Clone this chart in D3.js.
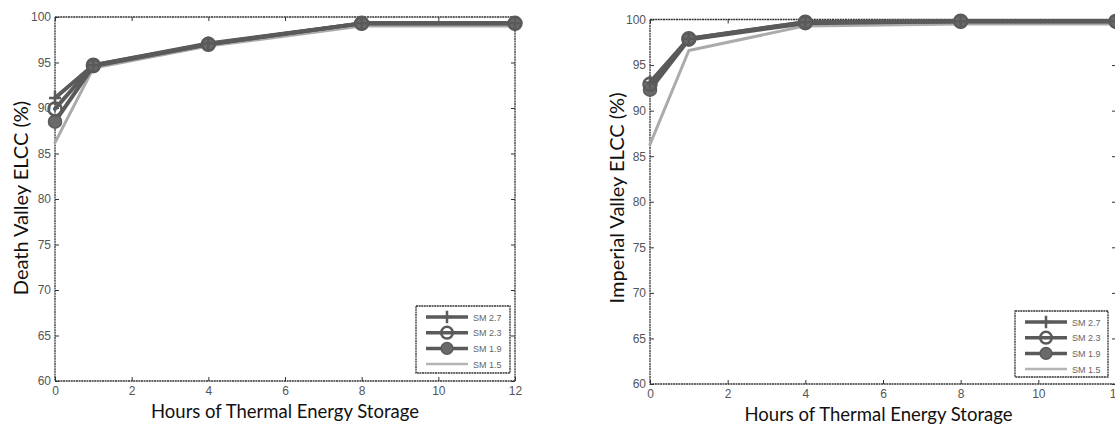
<!DOCTYPE html>
<html>
<head>
<meta charset="utf-8">
<script src="https://cdn.jsdelivr.net/npm/d3@7"></script>
<style>
  html, body { margin: 0; padding: 0; background: #fff; }
  svg { display: block; }
</style>
</head>
<body>
<svg id="chart" width="1115" height="428"></svg>
<script>
// ---- data ----
const hours = [0, 1, 4, 8, 12];
const seriesNames = ["SM 2.7", "SM 2.3", "SM 1.9", "SM 1.5"];
const deathSM27 = [91.1, 94.7, 97.1, 99.3, 99.3];
const deathSM23 = [89.9, 94.7, 97.0, 99.3, 99.3];
const deathSM19 = [88.5, 94.6, 97.0, 99.3, 99.3];
const deathSM15 = [86.2, 94.4, 96.8, 99.0, 99.0];
const impSM27 = [93.1, 97.9, 99.7, 99.8, 99.8];
const impSM23 = [92.9, 97.9, 99.7, 99.8, 99.8];
const impSM19 = [92.3, 97.8, 99.6, 99.8, 99.8];
const impSM15 = [86.3, 96.6, 99.3, 99.5, 99.5];
const xTicks = [0, 2, 4, 6, 8, 10, 12];
const yTicks = [60, 65, 70, 75, 80, 85, 90, 95, 100];

const styles = [
  { color: "#5a5a5a", width: 4, marker: "plus" },
  { color: "#5a5a5a", width: 4, marker: "open" },
  { color: "#5a5a5a", width: 4, marker: "filled" },
  { color: "#ababab", width: 3, marker: "none" }
];

const svg = d3.select("#chart");

function panel(cfg) {
  const x = d3.scaleLinear().domain([0, 12]).range([cfg.x0, cfg.x1]);
  const y = d3.scaleLinear().domain([60, 100]).range([cfg.y1, cfg.y0]);
  const g = svg.append("g");
  const axisColor = "#333";

  // box
  g.append("rect").attr("x", cfg.x0).attr("y", cfg.y0)
    .attr("width", cfg.x1 - cfg.x0).attr("height", cfg.y1 - cfg.y0)
    .attr("fill", "none").attr("stroke", axisColor).attr("stroke-width", 1.3)
    .attr("stroke-dasharray", "2,0.6");

  // axes (ticks inside, labels outside)
  const bx = g.append("g").attr("transform", `translate(0,${cfg.y1})`)
    .call(d3.axisBottom(x).tickValues(xTicks).tickSize(-4).tickPadding(5).tickFormat(d3.format("d")));
  const ly = g.append("g").attr("transform", `translate(${cfg.x0},0)`)
    .call(d3.axisLeft(y).tickValues(yTicks).tickSize(-4).tickPadding(4).tickFormat(d3.format("d")));
  const tx = g.append("g").attr("transform", `translate(0,${cfg.y0})`)
    .call(d3.axisTop(x).tickValues(xTicks).tickSize(-4).tickFormat(""));
  const ry = g.append("g").attr("transform", `translate(${cfg.x1},0)`)
    .call(d3.axisRight(y).tickValues(yTicks).tickSize(-4).tickFormat(""));
  [bx, ly, tx, ry].forEach(a => {
    a.select(".domain").remove();
    a.selectAll(".tick line").attr("stroke", axisColor).attr("stroke-width", 1);
    a.selectAll(".tick text").attr("fill", "#555")
      .style("font-family", "Liberation Sans, Arial, sans-serif").style("font-size", "12px");
  });

  // series
  const line = d3.line().x((d, i) => x(hours[i])).y(d => y(d));
  const order = [3, 2, 1, 0];
  order.forEach(si => {
    const st = styles[si];
    g.append("path").datum(cfg.series[si]).attr("d", line)
      .attr("fill", "none").attr("stroke", st.color).attr("stroke-width", st.width)
      .attr("stroke-linejoin", "round").attr("stroke-linecap", "round");
  });
  order.forEach(si => {
    const st = styles[si];
    cfg.series[si].forEach((v, i) => drawMarker(g, st, x(hours[i]), y(v), 1));
  });

  // legend
  const L = cfg.legend;
  g.append("rect").attr("x", L.x).attr("y", L.y).attr("width", L.w).attr("height", L.h)
    .attr("fill", "#fff").attr("stroke", axisColor).attr("stroke-width", 1.3)
    .attr("stroke-dasharray", "2,0.6");
  seriesNames.forEach((name, si) => {
    const st = styles[si];
    const yy = L.y + 11 + si * 15.7;
    g.append("line").attr("x1", L.x + 10).attr("x2", L.x + 52)
      .attr("y1", yy).attr("y2", yy)
      .attr("stroke", si === 3 ? "#b5b5b5" : st.color).attr("stroke-width", si === 3 ? 2.5 : 3.5);
    drawMarker(g, st, L.x + 31, yy, 0.9);
    g.append("text").attr("x", L.x + 57).attr("y", yy + 3.5).text(name)
      .attr("fill", "#666").style("font-family", "Liberation Sans, Arial, sans-serif")
      .style("font-size", "9px");
  });

  // titles
  g.append("text").attr("x", (cfg.x0 + Math.min(cfg.x1, 1115)) / 2 + cfg.xTitleDx).attr("y", cfg.xTitleY)
    .attr("text-anchor", "middle").text("Hours of Thermal Energy Storage")
    .attr("fill", "#111").style("font-family", "Lato, 'Open Sans', sans-serif").style("font-size", "18.5px");
  g.append("text").attr("transform", `translate(${cfg.yTitleX},${cfg.yTitleY}) rotate(-90)`)
    .attr("text-anchor", "middle").text(cfg.yTitle)
    .attr("fill", "#111").style("font-family", "Lato, 'Open Sans', sans-serif").style("font-size", "20px");
}

function drawMarker(g, st, cx, cy, s) {
  if (st.marker === "plus") {
    g.append("path").attr("d", `M${cx - 6 * s},${cy}H${cx + 6 * s}M${cx},${cy - 7 * s}V${cy + 7 * s}`)
      .attr("stroke", st.color).attr("stroke-width", 2.5).attr("fill", "none");
  } else if (st.marker === "open") {
    g.append("circle").attr("cx", cx).attr("cy", cy).attr("r", 6.5 * s)
      .attr("fill", "none").attr("stroke", st.color).attr("stroke-width", 2.5);
  } else if (st.marker === "filled") {
    g.append("circle").attr("cx", cx).attr("cy", cy).attr("r", 6.5 * s)
      .attr("fill", "#6a6a6a").attr("stroke", st.color).attr("stroke-width", 1.5);
  }
}

panel({
  x0: 55, x1: 515, y0: 17, y1: 381,
  series: [deathSM27, deathSM23, deathSM19, deathSM15],
  legend: { x: 416, y: 306, w: 94, h: 67 },
  yTitle: "Death Valley ELCC (%)", yTitleX: 28, yTitleY: 198,
  xTitleY: 418, xTitleDx: 0
});
panel({
  x0: 650, x1: 1116, y0: 19.5, y1: 384,
  series: [impSM27, impSM23, impSM19, impSM15],
  legend: { x: 1015, y: 311, w: 93, h: 66 },
  yTitle: "Imperial Valley ELCC (%)", yTitleX: 624, yTitleY: 198,
  xTitleY: 421, xTitleDx: -4
});
</script>
</body>
</html>
